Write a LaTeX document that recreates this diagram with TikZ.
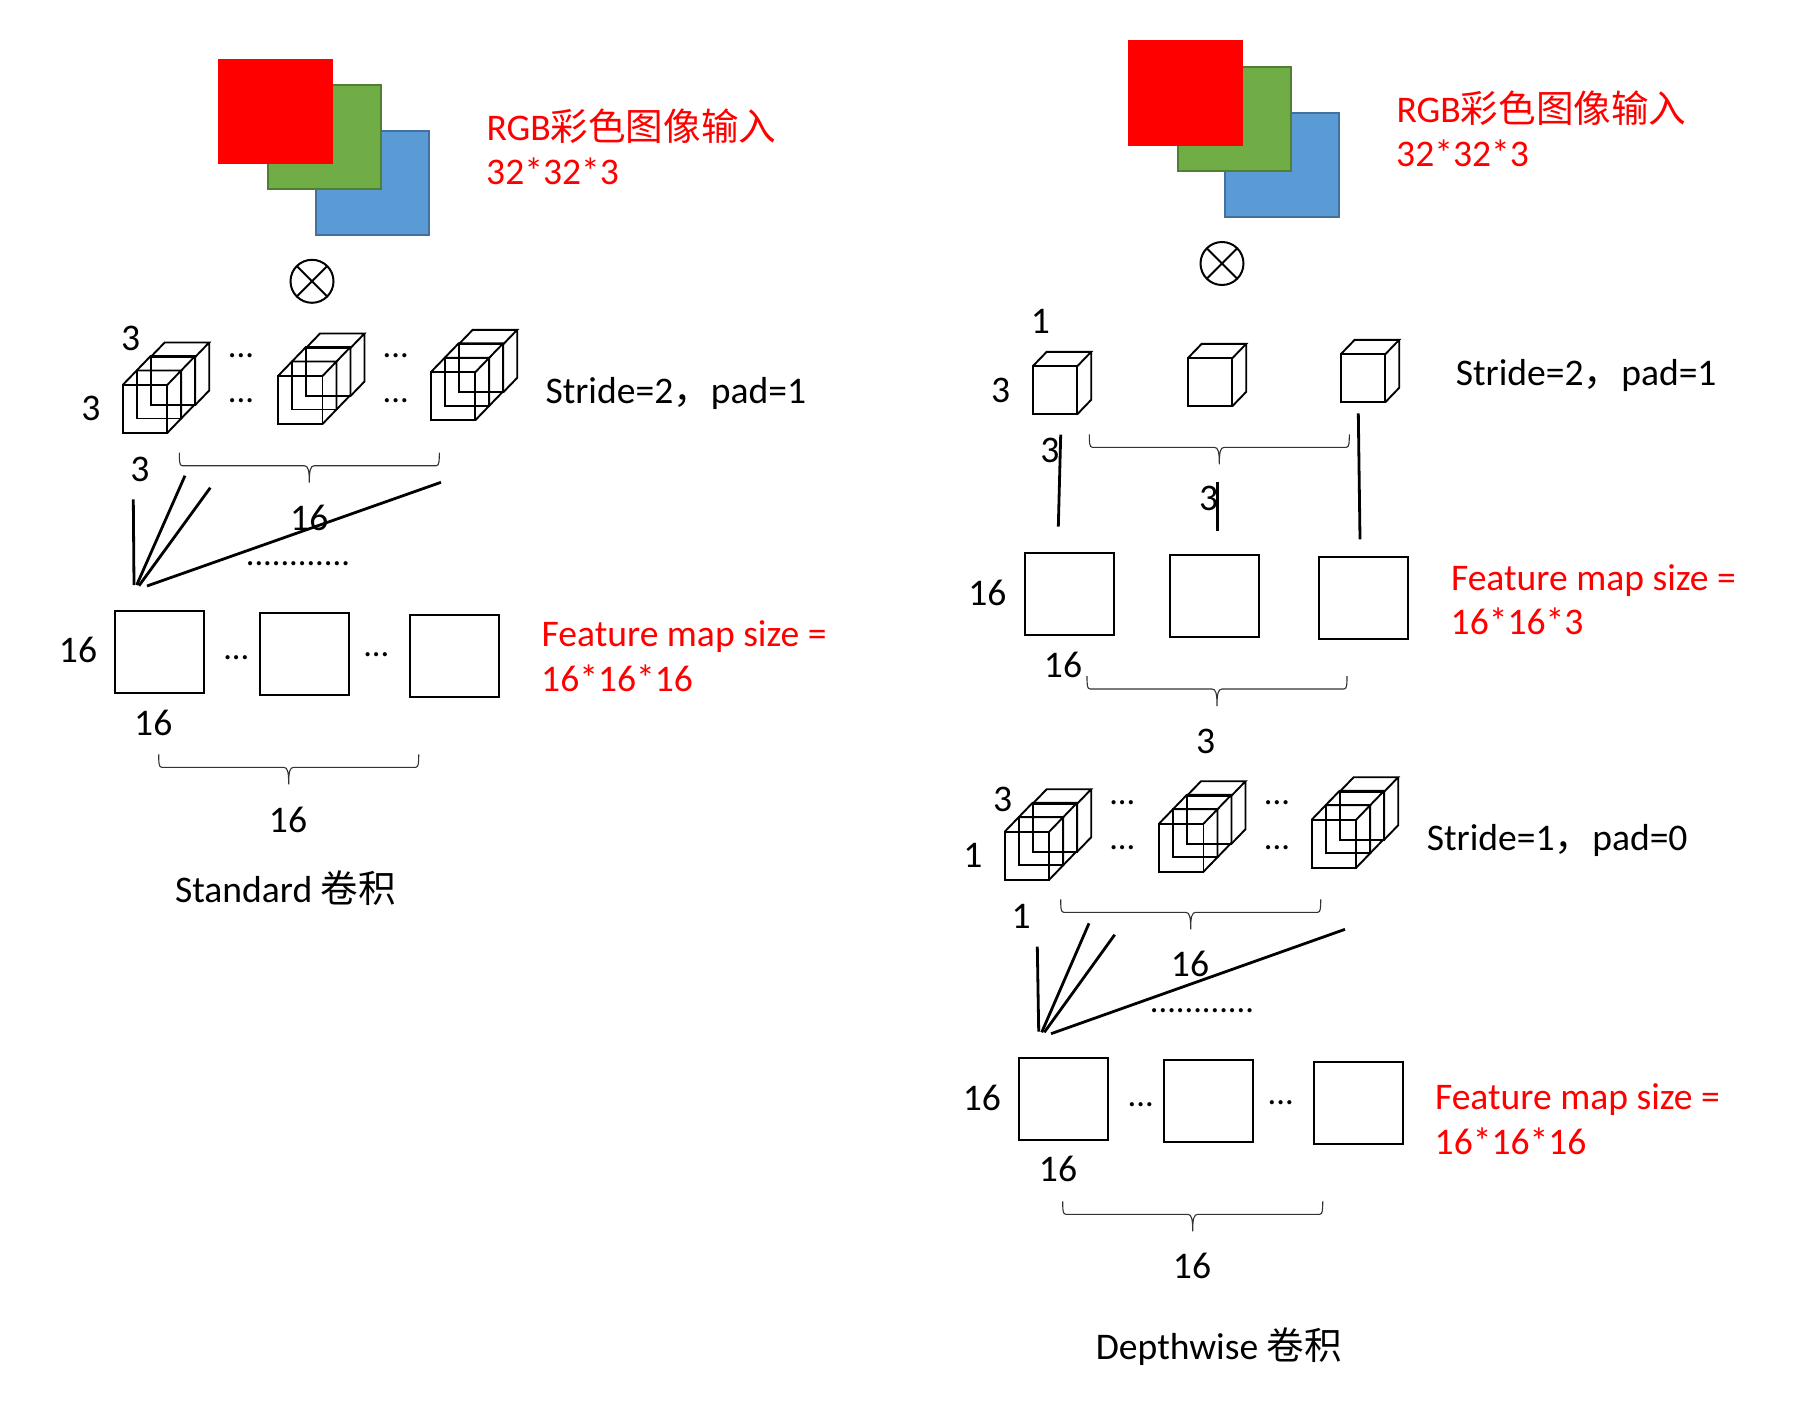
\documentclass[tikz,border=0pt]{standalone}
\usepackage{fontspec}
\setmainfont{Carlito}
\newfontfamily\cjk{Noto Sans CJK SC}
\definecolor{grn}{HTML}{70AD47}\definecolor{grnd}{HTML}{507E32}
\definecolor{blu}{HTML}{5B9BD5}\definecolor{blud}{HTML}{41719C}
\newcommand\onecube[2]{%
  \draw[cubeline] (#1,#2) rectangle ++(44.5,48);
  \draw[cubeline] (#1,#2) -- ++(14,-14.5) -- ++(44.5,0) -- ++(-14,14.5)
    (#1+58.5,#2-14.5) -- ++(0,48) -- ++(-14,14.5);}
\newcommand\triplecube[2]{%
  \onecube{#1}{#2}\onecube{#1+14}{#2-14.5}\onecube{#1+28}{#2-28}}
\newcommand\mybrace[2]{% left x, top y, total width 260
  \begin{scope}[shift={(#1,#2)}]
  \draw[bracepath] (0,0) .. controls (0,8) and (0,13) .. (3,13) -- (125,13)
    .. controls (129,13) and (130,18) .. (130,30)
    .. controls (130,18) and (131,13) .. (135,13) -- (257,13)
    .. controls (260,13) and (260,8) .. (260,0);
  \end{scope}}
\tikzset{
  lab/.style={anchor=base,inner sep=0pt,outer sep=0pt,font=\fontsize{18.8}{22}\selectfont},
  labl/.style={lab,anchor=base west},
  dotlab/.style={anchor=base,inner sep=0pt,outer sep=0pt,font=\fontsize{17.2}{22}\selectfont},
  redl/.style={labl,text=red},
  sqbox/.style={draw=black,line width=1pt,anchor=north west,minimum width=44.4pt,minimum height=40.9pt,inner sep=0pt,outer sep=0pt},
  redbox/.style={fill=red,anchor=north west,minimum width=57.5pt,minimum height=52.5pt,inner sep=0pt,outer sep=0pt},
  grnbox/.style={fill=grn,draw=grnd,line width=1pt,anchor=north west,minimum width=56.8pt,minimum height=52.2pt,inner sep=0pt,outer sep=0pt},
  blubox/.style={fill=blu,draw=blud,line width=1pt,anchor=north west,minimum width=56.8pt,minimum height=52.2pt,inner sep=0pt,outer sep=0pt},
  otimesnode/.style={draw=black,circle,line width=1pt,minimum size=21.5pt,inner sep=0pt,outer sep=0pt},
  cubeline/.style={line width=0.95pt,draw=black,line join=miter},
  stroke/.style={line width=1.4pt,draw=black},
  bracepath/.style={line width=0.55pt,draw=black!80},
}
\begin{document}
\begin{tikzpicture}[x=0.5pt,y=-0.5pt]
\useasboundingbox[fill=white] (0,0) rectangle (1819,1413);
% ---------- left column
\node[blubox] (lb) at (315.7,130.7) {};
\node[grnbox] (lg) at (267.7,84.7) {};
\node[redbox] (lr) at (218,59) {};
\node[redl] (lt1) at (486.5,140.5) {RGB{\cjk 彩色图像输入}};
\node[redl] (lt2) at (486.2,184.5) {32*32*3};
\node[otimesnode] (lo) at (312,281.3) {};
\draw[line width=1pt] (lo.45)--(lo.225) (lo.135)--(lo.315);
\triplecube{122.7}{385}
\triplecube{278}{376}
\triplecube{430.7}{372.3}
\node[lab] (l3a) at (130.7,350.5) {3};
\node[lab] (l3b) at (91,420.5) {3};
\node[lab] (l3c) at (140,481) {3};
\node[dotlab] (ld1) at (241,357) {...};
\node[dotlab] (ld2) at (241,402) {...};
\node[dotlab] (ld3) at (395.7,357) {...};
\node[dotlab] (ld4) at (395.7,402) {...};
\node[labl] (lst) at (545.5,403.7) {Stride=2{\cjk ，}pad=1};
\mybrace{179.3}{452.7}
\node[lab] (l16a) at (309.3,530) {16};
\draw[stroke] (133.3,499.3) -- (134,585);
\draw[stroke] (185,475.7) -- (136.7,585);
\draw[stroke] (210.3,487.7) -- (139,585.7);
\draw[stroke] (441,482.3) -- (147,586);
\node[dotlab] (ldots) at (298,565) {............};
\node[sqbox] (ls1) at (114.7,610.7) {};
\node[sqbox] (ls2) at (259.7,612.7) {};
\node[sqbox] (ls3) at (409.7,614.7) {};
\node[lab] (l16b) at (78,662.5) {16};
\node[dotlab] (ld5) at (236.3,659) {...};
\node[dotlab] (ld6) at (376.3,656.3) {...};
\node[redl] (lf1) at (541.7,646.8) {Feature map size =};
\node[redl] (lf2) at (541.2,691) {16*16*16};
\node[lab] (l16c) at (153.3,735) {16};
\mybrace{158.7}{754.3}
\node[lab] (l16d) at (288,832) {16};
\node[labl] (lcap) at (175,902.5) {Standard {\cjk 卷积}};
% ---------- right column
\node[blubox] (rb) at (1225.2,112.7) {};
\node[grnbox] (rg) at (1177.7,67) {};
\node[redbox] (rr) at (1128,40.5) {};
\node[redl] (rt1) at (1396.6,122) {RGB{\cjk 彩色图像输入}};
\node[redl] (rt2) at (1396.2,166.5) {32*32*3};
\node[otimesnode] (ro) at (1222,263.5) {};
\draw[line width=1pt] (ro.45)--(ro.225) (ro.135)--(ro.315);
\onecube{1032.7}{366.3}
\onecube{1187.7}{358.3}
\onecube{1340.7}{354.3}
\node[lab] (r1a) at (1040.5,333.5) {1};
\node[lab] (r3a) at (1000.7,402.5) {3};
\node[lab] (r3b) at (1050,462.8) {3};
\node[lab] (r3c) at (1208.7,510.5) {3};
\node[labl] (rst) at (1455.8,385) {Stride=2{\cjk ，}pad=1};
\mybrace{1089.3}{434.3}
\draw[stroke] (1060.7,434.7) -- (1058.3,526.7);
\draw[stroke] (1217.3,482.3) -- (1217.3,530.7);
\draw[stroke] (1358.3,413.3) -- (1360,539.3);
\node[sqbox] (rm1) at (1024.7,552.7) {};
\node[sqbox] (rm2) at (1169.7,554.7) {};
\node[sqbox] (rm3) at (1318.7,556.7) {};
\node[lab] (r16a) at (987.3,605) {16};
\node[lab] (r16b) at (1063,677) {16};
\node[redl] (rf1) at (1451,590) {Feature map size =};
\node[redl] (rf2) at (1450.7,634) {16*16*3};
\mybrace{1087}{676}
\node[lab] (r3d) at (1205.7,753) {3};
\triplecube{1004.7}{831.7}
\triplecube{1159}{823.7}
\triplecube{1311.7}{819.7}
\node[lab] (r3e) at (1002.7,811.5) {3};
\node[lab] (r1b) at (972.8,867) {1};
\node[lab] (r1c) at (1021.2,928.3) {1};
\node[dotlab] (rd1) at (1122.3,804.3) {...};
\node[dotlab] (rd2) at (1122.3,849.7) {...};
\node[dotlab] (rd3) at (1277,804.3) {...};
\node[dotlab] (rd4) at (1277,849.7) {...};
\node[labl] (rst2) at (1426.8,850) {Stride=1{\cjk ，}pad=0};
\mybrace{1060.7}{899.3}
\node[lab] (r16c) at (1190,976) {16};
\draw[stroke] (1037.3,946.7) -- (1038.7,1031.7);
\draw[stroke] (1089,923.3) -- (1041.7,1032.3);
\draw[stroke] (1114.7,934.7) -- (1044.3,1032.3);
\draw[stroke] (1345,929.3) -- (1051,1033.7);
\node[dotlab] (rdots) at (1202,1012) {............};
\node[sqbox] (rs1) at (1018.7,1057.7) {};
\node[sqbox] (rs2) at (1163.7,1059.7) {};
\node[sqbox] (rs3) at (1313.7,1061.7) {};
\node[lab] (r16d) at (981.8,1110.5) {16};
\node[dotlab] (rd5) at (1140.7,1106.3) {...};
\node[dotlab] (rd6) at (1280.7,1104.3) {...};
\node[redl] (rf3) at (1435,1109.5) {Feature map size =};
\node[redl] (rf4) at (1434.7,1154) {16*16*16};
\node[lab] (r16e) at (1058,1181.3) {16};
\mybrace{1062.7}{1201.3}
\node[lab] (r16f) at (1192,1278.3) {16};
\node[labl] (rcap) at (1095.8,1359.5) {Depthwise {\cjk 卷积}};
\end{tikzpicture}
\end{document}
